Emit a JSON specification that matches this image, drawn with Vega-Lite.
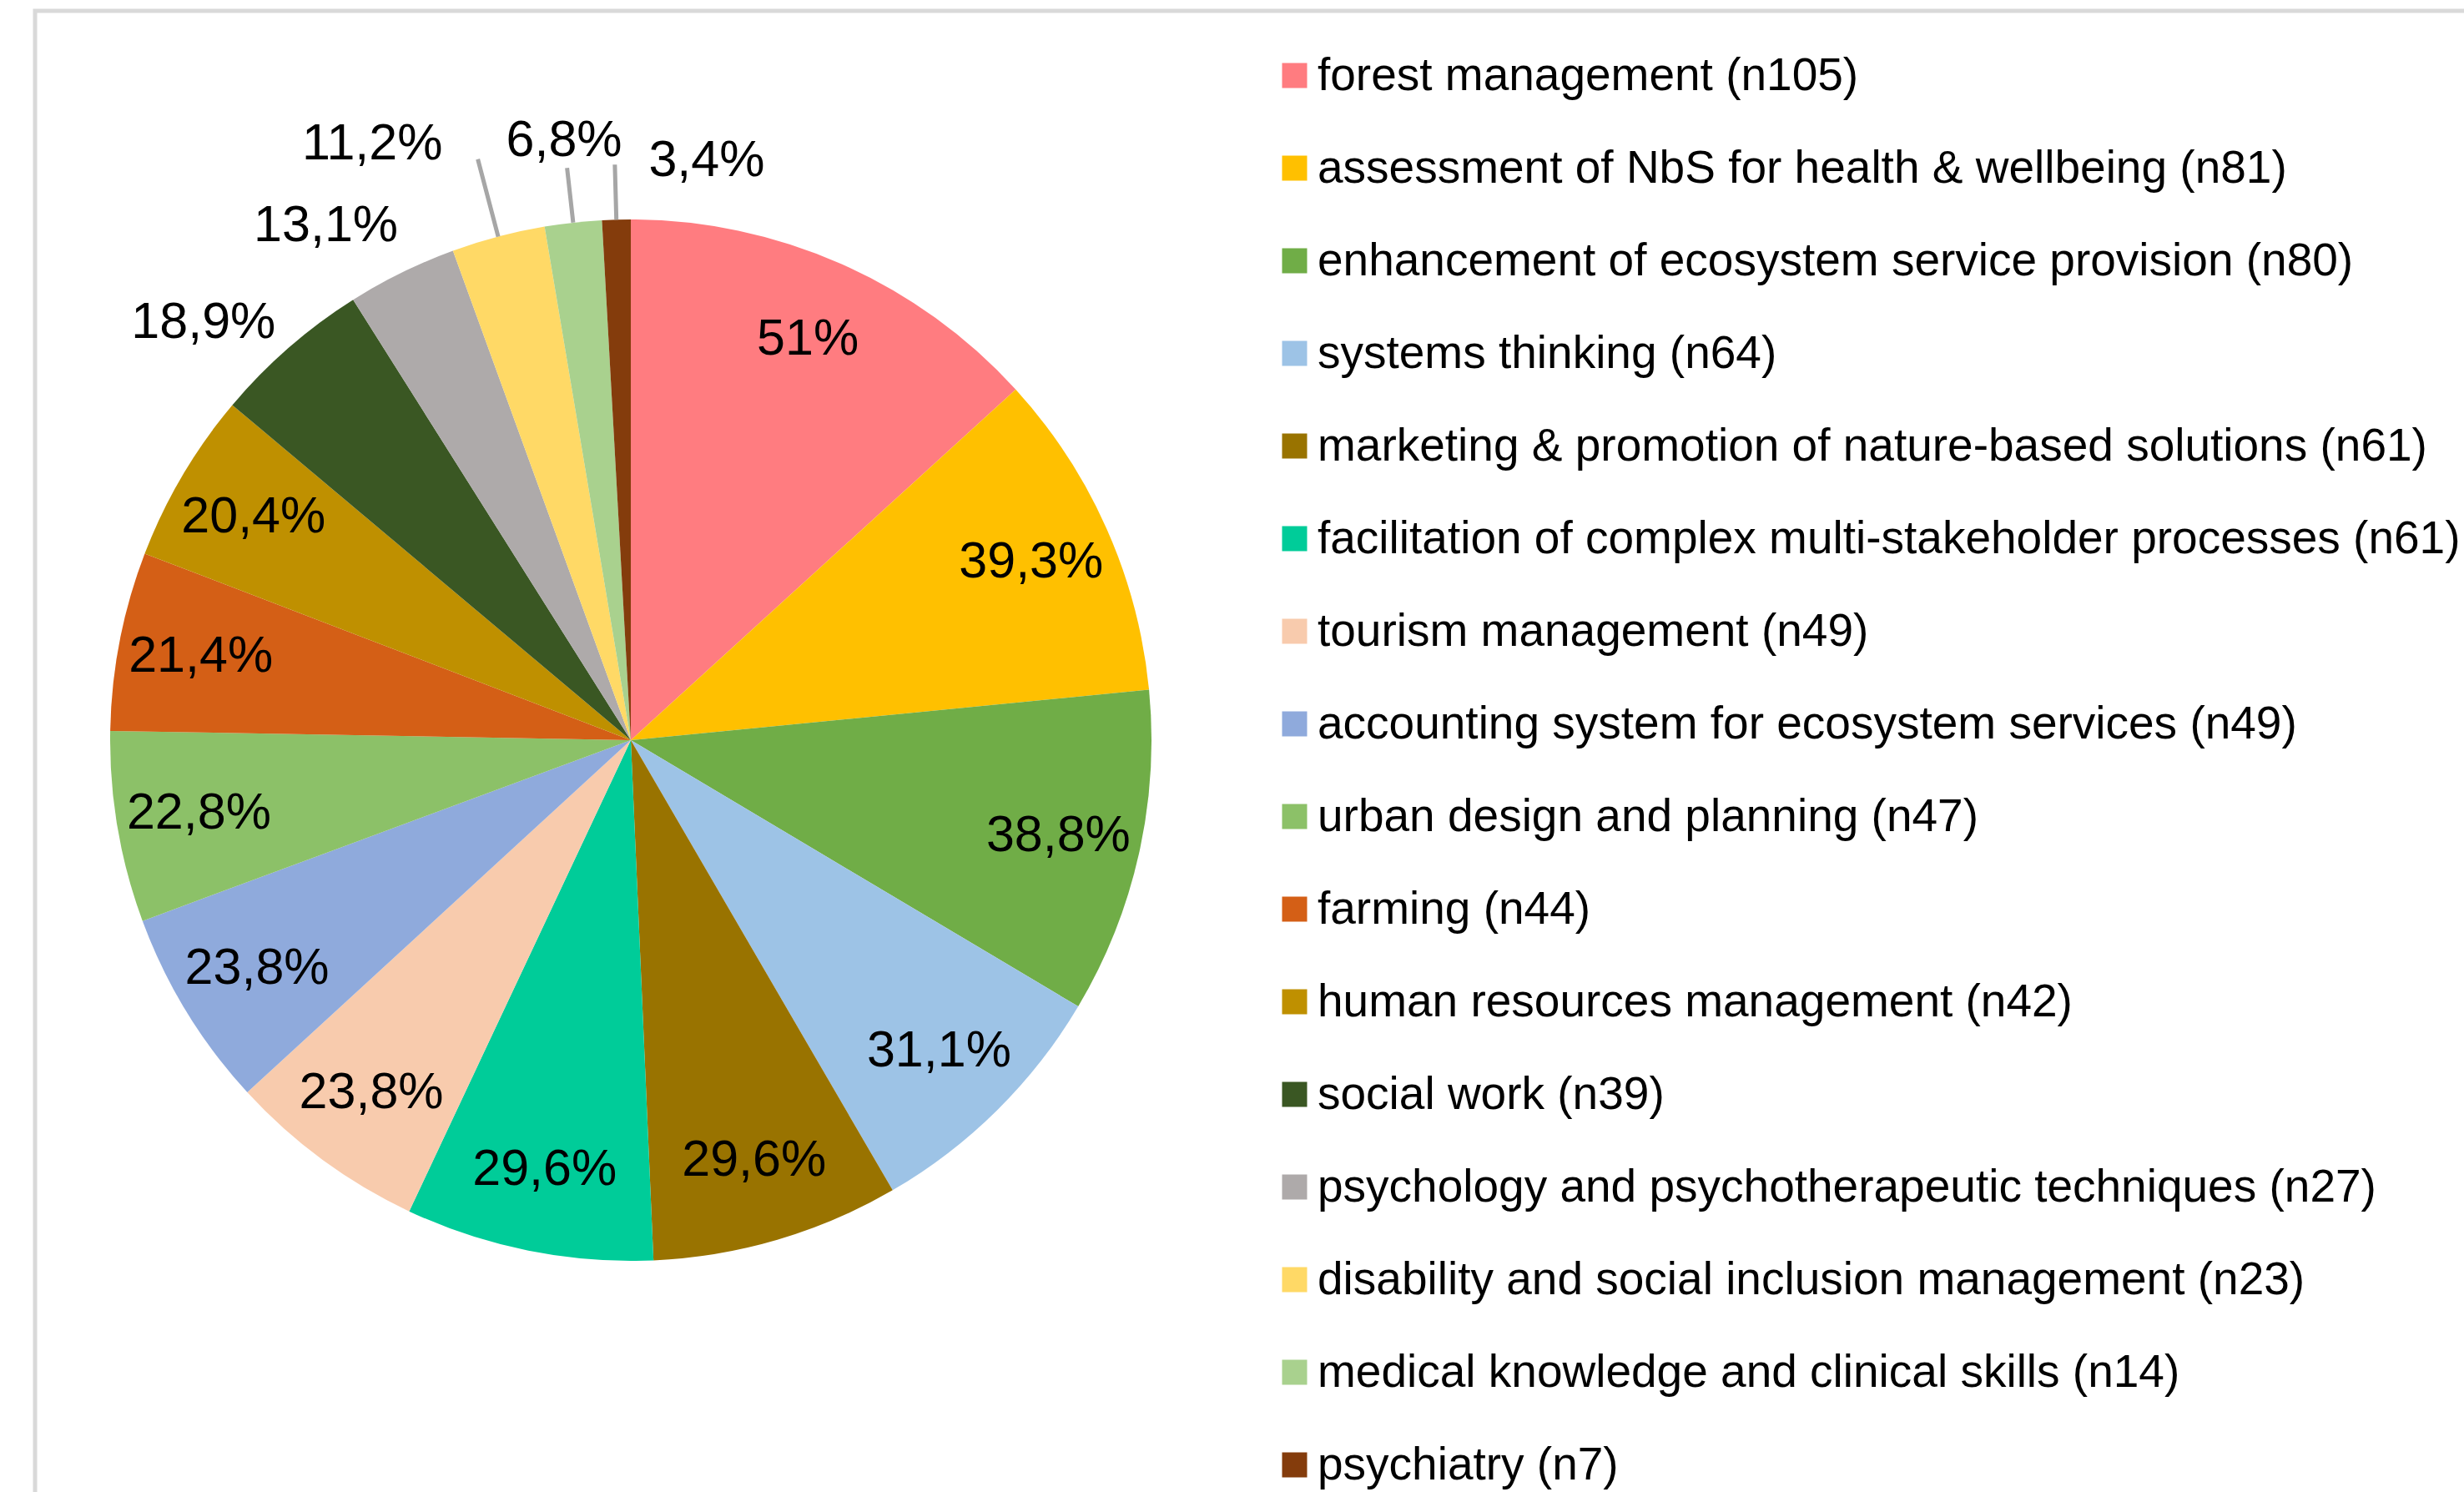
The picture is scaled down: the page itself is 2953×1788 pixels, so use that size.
{
  "$schema": "https://vega.github.io/schema/vega-lite/v6.json",
  "width": 2931,
  "height": 1795,
  "autosize": {"type": "none"},
  "padding": {"left": 42, "top": 13, "right": -20, "bottom": -20},
  "background": "white",
  "view": {"stroke": "#D9D9D9", "strokeWidth": 5, "fill": "white"},
  "config": {
    "view": {"stroke": "#D9D9D9", "strokeWidth": 5},
    "text": {"font": "Liberation Sans"}
  },
  "data": {
    "values": [
      {"idx": 1, "category": "forest management (n105)", "n": 105, "label": "51%"},
      {"idx": 2, "category": "assessment of NbS for health & wellbeing (n81)", "n": 81, "label": "39,3%"},
      {"idx": 3, "category": "enhancement of ecosystem service provision (n80)", "n": 80, "label": "38,8%"},
      {"idx": 4, "category": "systems thinking (n64)", "n": 64, "label": "31,1%"},
      {"idx": 5, "category": "marketing & promotion of nature-based solutions (n61)", "n": 61, "label": "29,6%"},
      {"idx": 6, "category": "facilitation of complex multi-stakeholder processes (n61)", "n": 61, "label": "29,6%"},
      {"idx": 7, "category": "tourism management (n49)", "n": 49, "label": "23,8%"},
      {"idx": 8, "category": "accounting system for ecosystem services (n49)", "n": 49, "label": "23,8%"},
      {"idx": 9, "category": "urban design and planning (n47)", "n": 47, "label": "22,8%"},
      {"idx": 10, "category": "farming (n44)", "n": 44, "label": "21,4%"},
      {"idx": 11, "category": "human resources management (n42)", "n": 42, "label": "20,4%"},
      {"idx": 12, "category": "social work (n39)", "n": 39, "label": "18,9%"},
      {"idx": 13, "category": "psychology and psychotherapeutic techniques (n27)", "n": 27, "label": "13,1%"},
      {"idx": 14, "category": "disability and social inclusion management (n23)", "n": 23, "label": "11,2%"},
      {"idx": 15, "category": "medical knowledge and clinical skills (n14)", "n": 14, "label": "6,8%"},
      {"idx": 16, "category": "psychiatry (n7)", "n": 7, "label": "3,4%"}
    ]
  },
  "encoding": {
    "theta": {"field": "n", "type": "quantitative", "stack": true},
    "order": {"field": "idx", "type": "quantitative"},
    "detail": {"field": "category", "type": "nominal"}
  },
  "layer": [
    {
      "mark": {"type": "arc", "outerRadius": 624, "x": 714, "y": 874},
      "encoding": {
        "color": {
          "field": "category",
          "type": "nominal",
          "scale": {
            "domain": [
              "forest management (n105)",
              "assessment of NbS for health & wellbeing (n81)",
              "enhancement of ecosystem service provision (n80)",
              "systems thinking (n64)",
              "marketing & promotion of nature-based solutions (n61)",
              "facilitation of complex multi-stakeholder processes (n61)",
              "tourism management (n49)",
              "accounting system for ecosystem services (n49)",
              "urban design and planning (n47)",
              "farming (n44)",
              "human resources management (n42)",
              "social work (n39)",
              "psychology and psychotherapeutic techniques (n27)",
              "disability and social inclusion management (n23)",
              "medical knowledge and clinical skills (n14)",
              "psychiatry (n7)"
            ],
            "range": [
              "#FF7C80", "#FFC000", "#70AD47", "#9DC3E6", "#997300", "#00CC99",
              "#F8CBAD", "#8FAADC", "#8CC168", "#D45F16", "#BF9000", "#3A5723",
              "#AEAAAA", "#FFD966", "#A9D18E", "#843C0C"
            ]
          },
          "legend": {
            "title": null,
            "orient": "none",
            "legendX": 1482,
            "legendY": 50,
            "padding": 0,
            "symbolType": "square",
            "symbolSize": 900,
            "symbolStrokeWidth": 0,
            "symbolOpacity": 1,
            "labelFont": "Liberation Sans",
            "labelFontSize": 55,
            "labelColor": "#000000",
            "labelLimit": 1500,
            "labelOffset": 0,
            "rowPadding": 55
          }
        }
      }
    },
    {
      "mark": {"type": "arc", "filled": false, "innerRadius": 624, "outerRadius": 690, "padAngle": 1.5, "x": 714, "y": 874, "stroke": "#A6A6A6", "strokeWidth": 5, "strokeCap": "butt"},
      "encoding": {
        "opacity": {"condition": {"test": "datum.n == 14 || datum.n == 7", "value": 1}, "value": 0}
      }
    },
    {
      "mark": {"type": "arc", "filled": false, "innerRadius": 624, "outerRadius": 720, "padAngle": 1.5, "x": 714, "y": 874, "stroke": "#A6A6A6", "strokeWidth": 5, "strokeCap": "butt"},
      "encoding": {
        "opacity": {"condition": {"test": "datum.n == 23", "value": 1}, "value": 0}
      }
    },
    {
      "mark": {"type": "text", "radius": 525, "x": 714, "y": 874, "fontSize": 61, "font": "Liberation Sans", "color": "#000000"},
      "encoding": {
        "text": {"condition": {"test": "datum.n >= 42", "field": "label"}, "value": ""}
      }
    },
    {
      "mark": {"type": "text", "radius": 716, "thetaOffset": -0.08, "x": 714, "y": 874, "fontSize": 61, "font": "Liberation Sans", "color": "#000000"},
      "encoding": {
        "text": {"condition": {"test": "datum.n == 39 || datum.n == 27", "field": "label"}, "value": ""}
      }
    },
    {
      "mark": {"type": "text", "radius": 722, "x": 714, "y": 874, "fontSize": 61, "font": "Liberation Sans", "color": "#000000"},
      "encoding": {
        "text": {"condition": {"test": "datum.n == 14", "field": "label"}, "value": ""}
      }
    },
    {
      "mark": {"type": "text", "radius": 778, "thetaOffset": -0.152, "x": 714, "y": 874, "fontSize": 61, "font": "Liberation Sans", "color": "#000000"},
      "encoding": {
        "text": {"condition": {"test": "datum.n == 23", "field": "label"}, "value": ""}
      }
    },
    {
      "mark": {"type": "text", "radius": 700, "thetaOffset": 0.158, "x": 714, "y": 874, "fontSize": 61, "font": "Liberation Sans", "color": "#000000"},
      "encoding": {
        "text": {"condition": {"test": "datum.n == 7", "field": "label"}, "value": ""}
      }
    }
  ]
}
